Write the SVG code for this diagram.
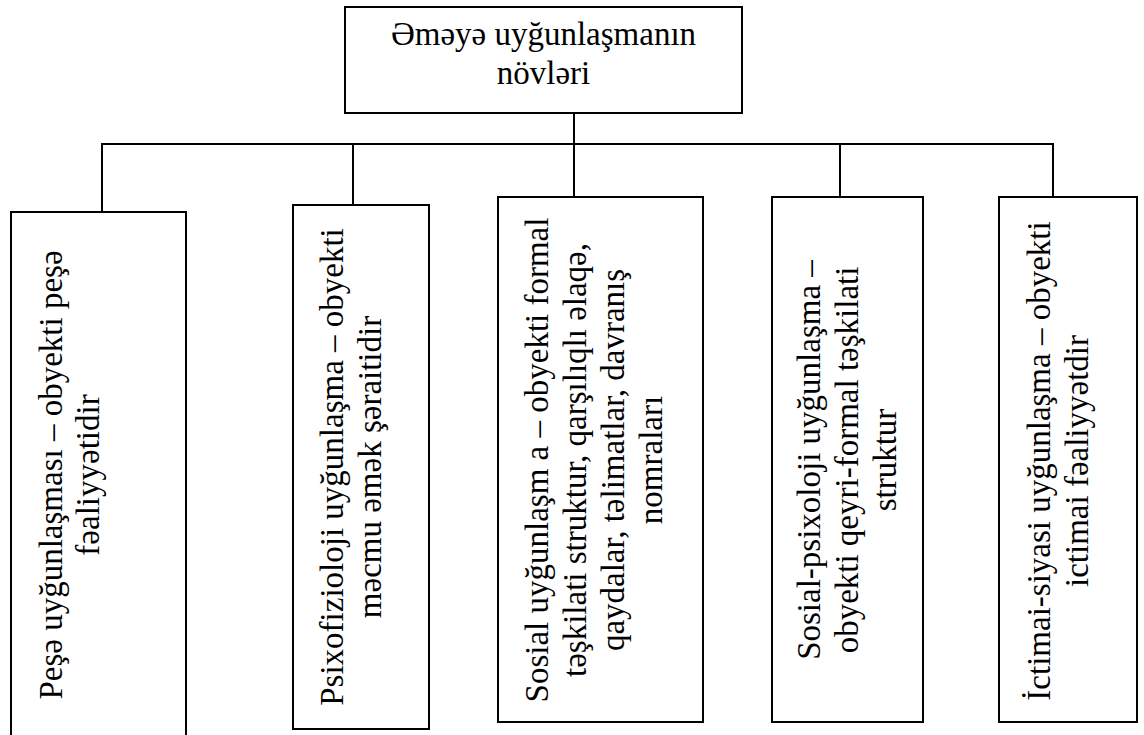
<svg xmlns="http://www.w3.org/2000/svg" width="1144" height="735" viewBox="0 0 1144 735" font-family="'Liberation Serif', 'Times New Roman', 'DejaVu Serif', serif">
<style>
.box{fill:#fff;stroke:#000;stroke-width:2}
.ln{fill:none;stroke:#000;stroke-width:2}
.t{font-family:'Liberation Serif','Times New Roman','DejaVu Serif',serif;font-size:33px;fill:#000;text-anchor:middle}
</style>
<rect width="1144" height="735" fill="#fff"/>
<g id="connectors">
<line class="ln" x1="574" y1="113" x2="574" y2="197"/>
<line class="ln" x1="101" y1="144" x2="1054" y2="144"/>
<line class="ln" x1="102" y1="144" x2="102" y2="220"/>
<line class="ln" x1="353" y1="144" x2="353" y2="205"/>
<line class="ln" x1="840" y1="144" x2="840" y2="197"/>
<line class="ln" x1="1053" y1="144" x2="1053" y2="197"/>
</g>
<g id="root">
<rect class="box" x="345" y="7" width="397" height="106"/>
<text class="t" x="543.5" y="45">Əməyə uyğunlaşmanın</text>
<text class="t" x="543.5" y="84">növləri</text>
</g>
<g id="n1">
<rect class="box" x="11" y="212" width="175" height="530"/>
<g transform="translate(0,475) rotate(-90)">
<text class="t" x="0" y="62">Peşə uyğunlaşması – obyekti peşə</text>
<text class="t" x="0" y="99">fəaliyyətidir</text>
</g>
</g>
<g id="n2">
<rect class="box" x="293" y="205" width="136" height="524"/>
<g transform="translate(0,467) rotate(-90)">
<text class="t" x="0" y="343">Psixofizioloji uyğunlaşma – obyekti</text>
<text class="t" x="0" y="381">məcmu əmək şəraitidir</text>
</g>
</g>
<g id="n3">
<rect class="box" x="498" y="197" width="205" height="525"/>
<g transform="translate(0,460) rotate(-90)">
<text class="t" x="0" y="548">Sosial uyğunlaşm a – obyekti formal</text>
<text class="t" x="0" y="586">təşkilati struktur, qarşılıqlı əlaqə,</text>
<text class="t" x="0" y="624">qaydalar, təlimatlar, davranış</text>
<text class="t" x="0" y="662">nomraları</text>
</g>
</g>
<g id="n4">
<rect class="box" x="772" y="197" width="151" height="525"/>
<g transform="translate(0,460) rotate(-90)">
<text class="t" x="0" y="820">Sosial-psixoloji uyğunlaşma –</text>
<text class="t" x="0" y="858">obyekti qeyri-formal təşkilati</text>
<text class="t" x="0" y="896">struktur</text>
</g>
</g>
<g id="n5">
<rect class="box" x="999" y="197" width="138" height="525"/>
<g transform="translate(0,461) rotate(-90)">
<text class="t" x="0" y="1050">İctimai-siyasi uyğunlaşma – obyekti</text>
<text class="t" x="0" y="1088">ictimai fəaliyyətdir</text>
</g>
</g>
</svg>
